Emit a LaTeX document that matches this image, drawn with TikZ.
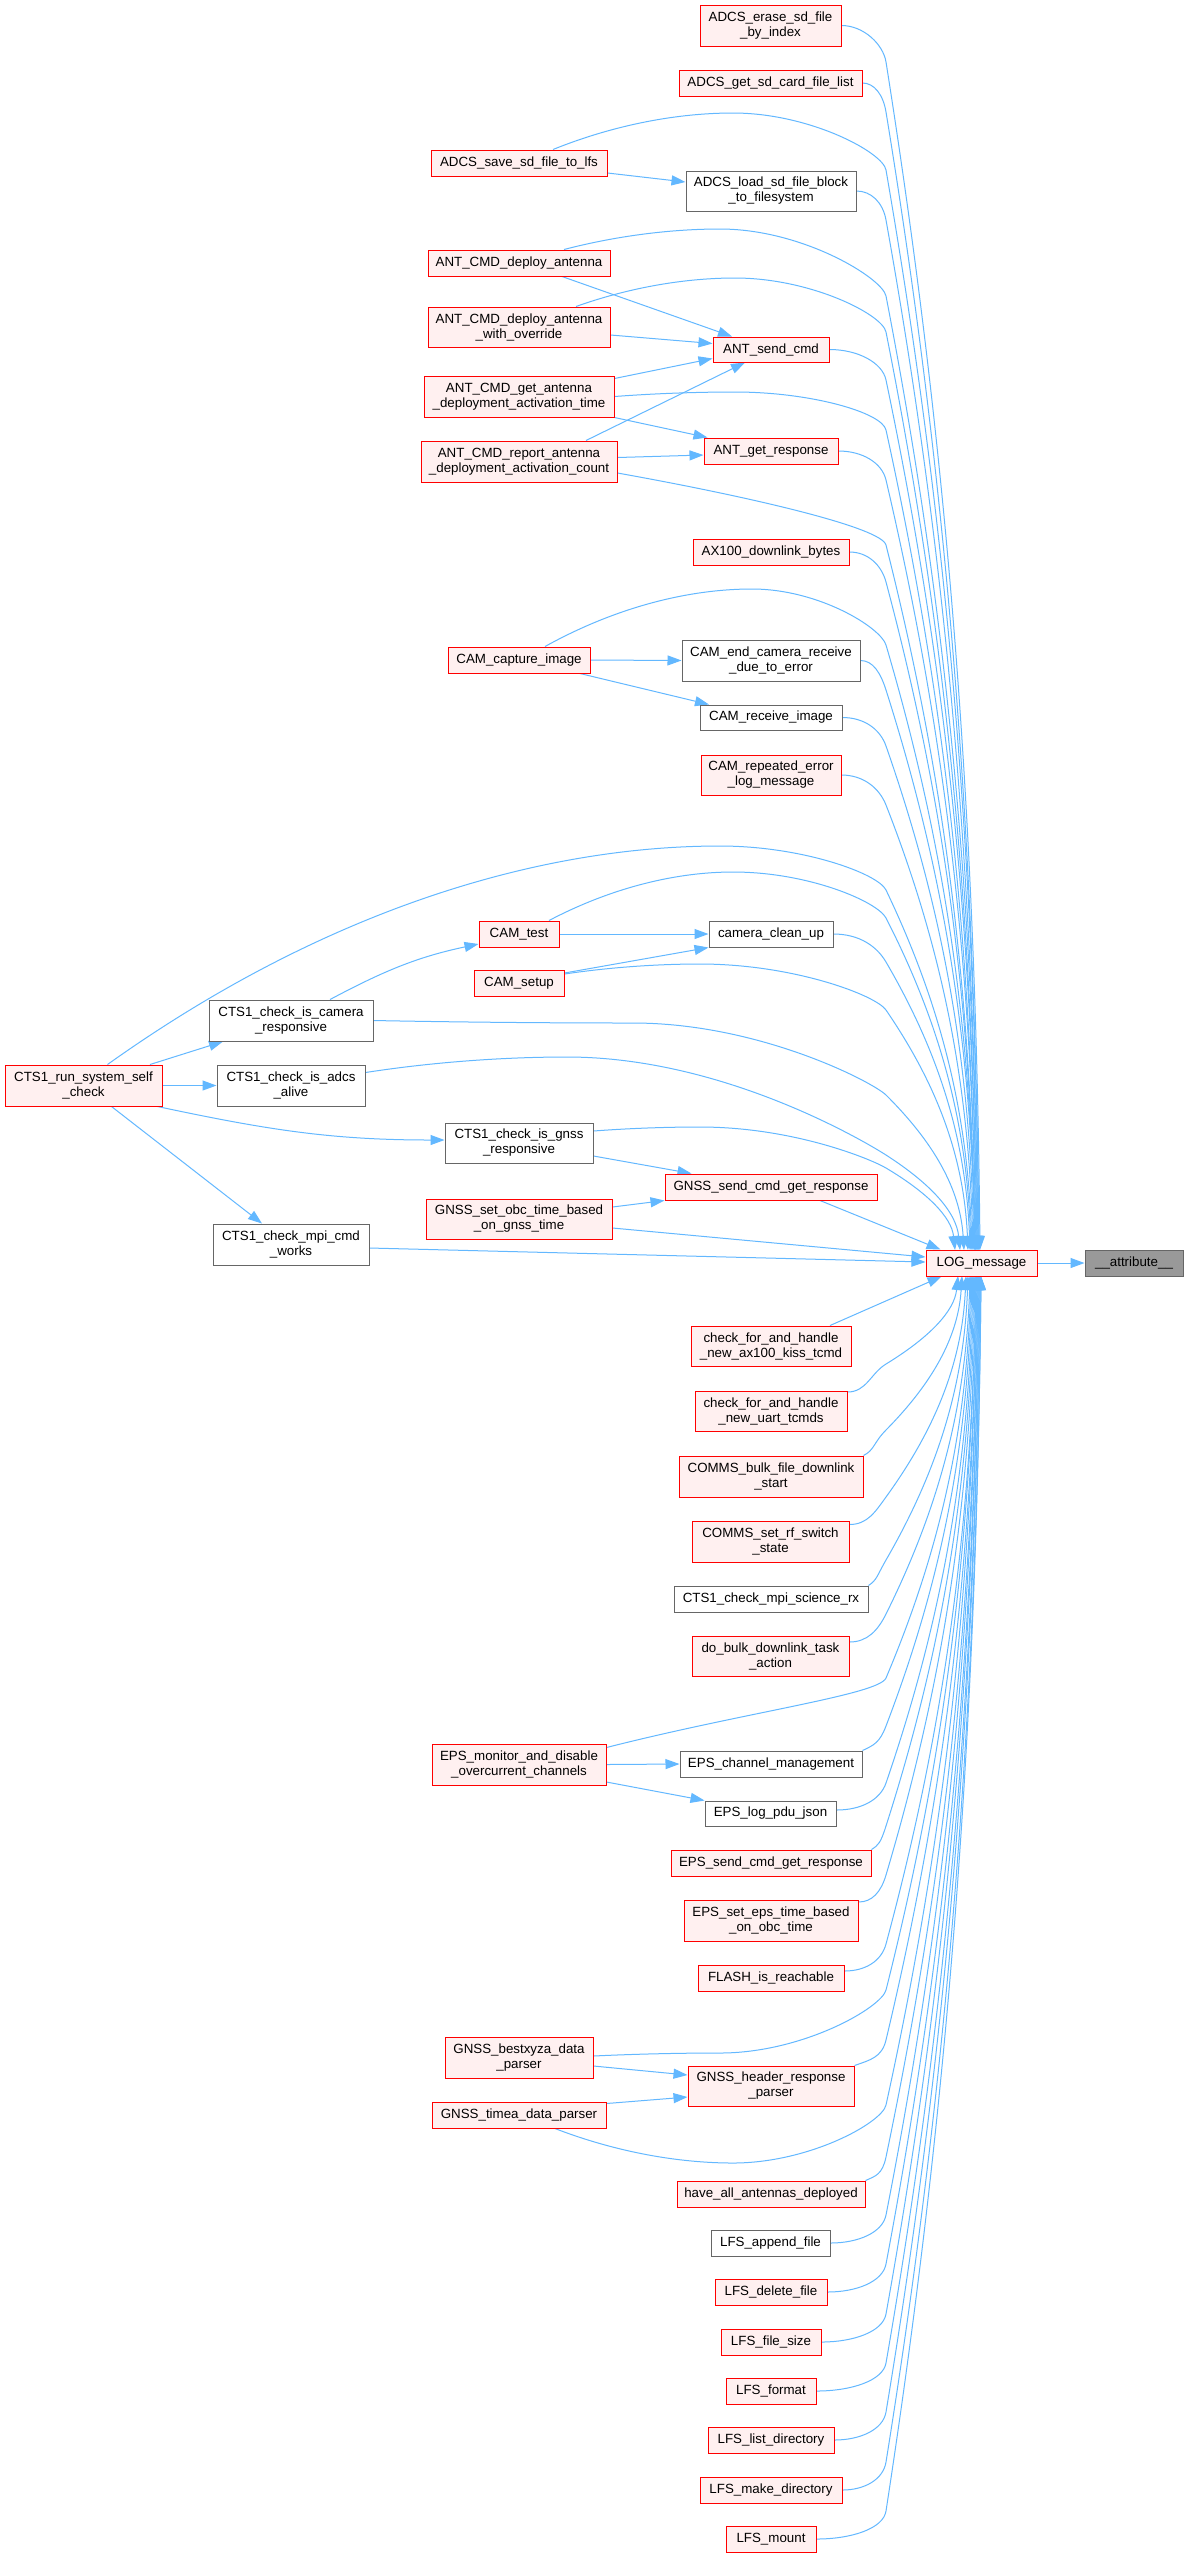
\documentclass[tikz,border=0pt]{standalone}
\usepackage{fontspec}
\setmainfont{Liberation Sans}
\usetikzlibrary{arrows.meta,calc,backgrounds}
\definecolor{edgec}{HTML}{63B8FF}
\definecolor{redb}{HTML}{FF0000}
\definecolor{redf}{HTML}{FFF0F0}
\definecolor{grayb}{HTML}{666666}
\definecolor{attrf}{HTML}{999999}
\tikzset{
 box/.style={draw, line width=0.75pt, align=center, inner sep=0pt, font=\fontsize{10}{11.25}\selectfont, text=black},
 rbox/.style={box, draw=redb, fill=redf},
 gbox/.style={box, draw=grayb, fill=white},
 abox/.style={box, draw=grayb, fill=attrf},
 conn/.style={draw=edgec, line width=0.75pt, -{Triangle[length=10.5pt,width=7.5pt]}}
}
\newcommand\nd[7]{\node[#2, minimum width={(#4-#3)*0.75pt}, minimum height={(#6-#5)*0.75pt}] (#1) at ({(#3+#4)/2},{(#5+#6)/2}) {#7};}
\newcommand\segtoE[4]{%
 \pgfmathsetmacro\cAx{#1+0.6*(#3-#1)}%
 \pgfmathsetmacro\cAy{#2+0.3*(#4-#2)}%
 \pgfmathsetmacro\cBx{#3-0.05*(#3-#1)}%
 \pgfmathsetmacro\cBy{#4-0.4*(#4-#2)}%
 \pgfmathsetmacro\Snn{veclen(\cAx-#1,\cAy-#2)}%
 \pgfmathsetmacro\pBx{#1-18*(\cAx-#1)/\Snn}%
 \pgfmathsetmacro\pBy{#2-18*(\cAy-#2)/\Snn}%
}
% start, xs, ys, sAy, By, xe, ye
\newcommand\rcedge[7]{%
 \segtoE{886}{#5}{#6}{#7}%
 \pgfmathsetmacro\sAx{#2+0.5*(886-#2)}%
 \draw[conn] (#1) .. controls (\sAx,#4) and (\pBx,\pBy) .. (886,#5)
   .. controls (\cAx,\cAy) and (\cBx,\cBy) .. ($(logm.center)+({#6-981.5},{#7-1263})$);
}
% start, xs, ys, Px, Py, By, xe, ye
\newcommand\ovedge[8]{%
 \segtoE{886}{#6}{#7}{#8}%
 \pgfmathsetmacro\sAx{#2+0.35*(#4-#2)}%
 \pgfmathsetmacro\sAy{#3+0.7*(#5-#3)}%
 \pgfmathsetmacro\pAx{#4-0.3*(#4-#2)}%
 \pgfmathsetmacro\qAx{#4+0.5*(886-#4)}%
 \draw[conn] (#1) .. controls (\sAx,\sAy) and (\pAx,#5) .. (#4,#5)
   .. controls (\qAx,#5) and (\pBx,\pBy) .. (886,#6)
   .. controls (\cAx,\cAy) and (\cBx,\cBy) .. ($(logm.center)+({#7-981.5},{#8-1263})$);
}
\begin{document}
\begin{tikzpicture}[x=0.75pt,y=-0.75pt]
\useasboundingbox (0,0) rectangle (1184,2557);
\nd{erase}{rbox}{700}{841}{5}{46}{ADCS\_erase\_sd\_file\\\_by\_index}
\nd{getsd}{rbox}{679}{862}{70}{96}{ADCS\_get\_sd\_card\_file\_list}
\nd{savesd}{rbox}{431}{607}{150}{176}{ADCS\_save\_sd\_file\_to\_lfs}
\nd{loadsd}{gbox}{686}{856}{171}{211}{ADCS\_load\_sd\_file\_block\\\_to\_filesystem}
\nd{deploy}{rbox}{428}{610}{250}{276}{ANT\_CMD\_deploy\_antenna}
\nd{deployov}{rbox}{428}{610}{307}{347}{ANT\_CMD\_deploy\_antenna\\\_with\_override}
\nd{sendcmd}{rbox}{713}{829}{337}{362}{ANT\_send\_cmd}
\nd{gettime}{rbox}{424}{614}{376}{417}{ANT\_CMD\_get\_antenna\\\_deployment\_activation\_time}
\nd{getresp}{rbox}{704}{838}{438}{464}{ANT\_get\_response}
\nd{report}{rbox}{421}{617}{441}{482}{ANT\_CMD\_report\_antenna\\\_deployment\_activation\_count}
\nd{ax100}{rbox}{693}{849}{539}{565}{AX100\_downlink\_bytes}
\nd{capture}{rbox}{448}{590}{647}{673}{CAM\_capture\_image}
\nd{endcam}{gbox}{682}{860}{640}{681}{CAM\_end\_camera\_receive\\\_due\_to\_error}
\nd{recv}{gbox}{700}{842}{705}{730}{CAM\_receive\_image}
\nd{repeated}{rbox}{701}{841}{755}{795}{CAM\_repeated\_error\\\_log\_message}
\nd{camtest}{rbox}{479}{559}{921}{947}{CAM\_test}
\nd{cleanup}{gbox}{709}{833}{921}{947}{camera\_clean\_up}
\nd{camsetup}{rbox}{474}{564}{970}{996}{CAM\_setup}
\nd{chkcam}{gbox}{209}{373}{1000}{1041}{CTS1\_check\_is\_camera\\\_responsive}
\nd{runself}{rbox}{5}{162}{1065}{1106}{CTS1\_run\_system\_self\\\_check}
\nd{adcs}{gbox}{217}{365}{1065}{1106}{CTS1\_check\_is\_adcs\\\_alive}
\nd{gnssresp}{gbox}{445}{593}{1123}{1163}{CTS1\_check\_is\_gnss\\\_responsive}
\nd{gnsssend}{rbox}{665}{877}{1174}{1200}{GNSS\_send\_cmd\_get\_response}
\nd{gnssset}{rbox}{426}{612}{1199}{1239}{GNSS\_set\_obc\_time\_based\\\_on\_gnss\_time}
\nd{mpicmd}{gbox}{213}{369}{1224}{1265}{CTS1\_check\_mpi\_cmd\\\_works}
\nd{logm}{rbox}{926}{1037}{1250}{1276}{LOG\_message}
\nd{attr}{abox}{1085}{1183}{1250}{1276}{\_\_attribute\_\_}
\nd{ax100kiss}{rbox}{691}{851}{1326}{1366}{check\_for\_and\_handle\\\_new\_ax100\_kiss\_tcmd}
\nd{uart}{rbox}{695}{847}{1391}{1431}{check\_for\_and\_handle\\\_new\_uart\_tcmds}
\nd{bulk}{rbox}{679}{863}{1456}{1497}{COMMS\_bulk\_file\_downlink\\\_start}
\nd{rfsw}{rbox}{692}{849}{1521}{1562}{COMMS\_set\_rf\_switch\\\_state}
\nd{mpisci}{gbox}{674}{868}{1586}{1612}{CTS1\_check\_mpi\_science\_rx}
\nd{dobulk}{rbox}{692}{849}{1636}{1676}{do\_bulk\_downlink\_task\\\_action}
\nd{epsmon}{rbox}{432}{606}{1744}{1785}{EPS\_monitor\_and\_disable\\\_overcurrent\_channels}
\nd{epschan}{gbox}{680}{862}{1751}{1777}{EPS\_channel\_management}
\nd{epslog}{gbox}{705}{836}{1801}{1826}{EPS\_log\_pdu\_json}
\nd{epssend}{rbox}{671}{871}{1850}{1876}{EPS\_send\_cmd\_get\_response}
\nd{epsset}{rbox}{684}{858}{1900}{1941}{EPS\_set\_eps\_time\_based\\\_on\_obc\_time}
\nd{flash}{rbox}{698}{844}{1965}{1991}{FLASH\_is\_reachable}
\nd{bestxyza}{rbox}{445}{593}{2037}{2078}{GNSS\_bestxyza\_data\\\_parser}
\nd{header}{rbox}{688}{854}{2066}{2106}{GNSS\_header\_response\\\_parser}
\nd{timea}{rbox}{432}{606}{2102}{2128}{GNSS\_timea\_data\_parser}
\nd{haveall}{rbox}{677}{865}{2181}{2207}{have\_all\_antennas\_deployed}
\nd{lfsappend}{gbox}{711}{830}{2230}{2256}{LFS\_append\_file}
\nd{lfsdelete}{rbox}{715}{827}{2279}{2305}{LFS\_delete\_file}
\nd{lfssize}{rbox}{721}{821}{2329}{2355}{LFS\_file\_size}
\nd{lfsformat}{rbox}{726}{816}{2378}{2404}{LFS\_format}
\nd{lfslist}{rbox}{708}{834}{2427}{2453}{LFS\_list\_directory}
\nd{lfsmake}{rbox}{700}{842}{2477}{2503}{LFS\_make\_directory}
\nd{lfsmount}{rbox}{726}{816}{2526}{2552}{LFS\_mount}
\begin{pgfonlayer}{background}
\fill[white] (0,0) rectangle (1184,2557);
% callers above LOG_message (right column)
\rcedge{erase.east}{841}{25.5}{25.5}{62}{980}{1250}
\rcedge{getsd.east}{862}{83}{83}{112}{979}{1250}
\rcedge{loadsd.east}{856}{191}{191}{220}{978}{1250}
\rcedge{sendcmd.east}{829}{349.5}{349.5}{380}{977}{1250}
\rcedge{getresp.east}{838}{451}{451}{480}{976}{1250}
\rcedge{ax100.east}{849}{552}{552}{582}{975}{1250}
\rcedge{endcam.east}{860}{660.5}{660.5}{690}{975}{1250}
\rcedge{recv.east}{842}{717.5}{717.5}{746}{974}{1250}
\rcedge{repeated.east}{841}{775}{775}{805}{973}{1250}
\rcedge{cleanup.east}{833}{934}{934}{962}{970}{1250}
\rcedge{$(report.east)+(0,11.5)$}{617}{473}{497}{545}{975}{1250}
% callers passing over the top
\ovedge{$(savesd.north)+(34,0)$}{553}{150}{733}{113}{170}{979}{1250}
\ovedge{$(deploy.north)+(45,0)$}{564}{250}{720}{229}{296}{978}{1250}
\ovedge{$(deployov.north)+(57,0)$}{576}{307}{735}{278}{332}{977}{1250}
\ovedge{gettime.east}{614}{396.5}{735}{392}{430}{976}{1250}
\ovedge{$(capture.north)+(26,0)$}{545}{647}{752}{589}{645}{975}{1250}
\ovedge{$(runself.north)+(24,0)$}{107.5}{1065}{720}{846}{890}{972}{1250}
\ovedge{$(camtest.north)+(30,0)$}{549}{921}{733}{872}{918}{971}{1250}
\ovedge{$(camsetup.east)+(0,-9)$}{564}{974}{700}{964}{1010}{968}{1250}
\ovedge{chkcam.east}{373}{1020.5}{633}{1023}{1095}{964}{1250}
\ovedge{$(adcs.east)+(0,-13)$}{365}{1072.5}{567}{1057}{1155}{960}{1250}
\ovedge{$(gnssresp.east)+(0,-12)$}{593}{1131}{700}{1127}{1168}{955}{1250}
% nearly straight ones
\draw[conn] ($(gnsssend.south)+(49,0)$) -- ($(logm.north west)+(15,0)$);
\draw[conn] ($(gnssset.east)+(0,9)$) -- ($(logm.west)+(0,-6)$);
\draw[conn] ($(mpicmd.east)+(0,3.5)$) -- ($(logm.west)+(0,-1)$);
\draw[conn] ($(ax100kiss.north)+(59,0)$) -- ($(logm.south west)+(16,0)$);
% callers below LOG_message
\rcedge{$(uart.east)+(0,-19)$}{847}{1392}{1392}{1364}{958}{1276}
\rcedge{bulk.north east}{863}{1456}{1450}{1430}{962}{1276}
\rcedge{$(rfsw.east)+(0,-17)$}{849}{1524.5}{1524.5}{1497}{966}{1276}
\rcedge{mpisci.north east}{868}{1586}{1580}{1560}{968}{1276}
\rcedge{$(dobulk.east)+(0,-14)$}{849}{1642}{1642}{1614}{970}{1276}
\rcedge{$(epsmon.north east)+(0,4)$}{606}{1748}{1712}{1678}{971}{1276}
\rcedge{epschan.north east}{862}{1751}{1745}{1726}{972}{1276}
\rcedge{$(epslog.east)+(0,-3.5)$}{836}{1810}{1810}{1783}{973}{1276}
\rcedge{epssend.north east}{871}{1850}{1845}{1826}{974}{1276}
\rcedge{$(epsset.east)+(0,-18.5)$}{858}{1902}{1902}{1875}{975}{1276}
\rcedge{$(flash.east)+(0,-7)$}{844}{1971}{1971}{1944}{976}{1276}
\rcedge{header.north east}{854}{2066}{2060}{2040}{977}{1276}
\rcedge{haveall.north east}{865}{2181}{2176}{2157}{978}{1276}
\rcedge{lfsappend.east}{830}{2243}{2243}{2215}{978}{1276}
\rcedge{lfsdelete.east}{827}{2292}{2292}{2264}{979}{1276}
\rcedge{lfssize.east}{821}{2342}{2342}{2314}{979}{1276}
\rcedge{lfsformat.east}{816}{2391}{2391}{2363}{980}{1276}
\rcedge{lfslist.east}{834}{2440}{2440}{2412}{980}{1276}
\rcedge{lfsmake.east}{842}{2490}{2490}{2462}{981}{1276}
\rcedge{lfsmount.east}{816}{2539}{2539}{2511}{981}{1276}
\ovedge{$(bestxyza.east)+(0,-1.5)$}{593}{2056}{720}{2053}{1990}{976}{1276}
\ovedge{$(timea.south)+(36,0)$}{555}{2128}{733}{2163}{2105}{977}{1276}
% other calls
\draw[conn] ($(savesd.east)+(0,10)$) -- ($(loadsd.west)+(0,-9)$);
\draw[conn] ($(deploy.south)+(43,0)$) -- ($(sendcmd.north)+(-39,0)$);
\draw[conn] ($(deployov.east)+(0,8)$) -- ($(sendcmd.west)+(0,-6)$);
\draw[conn] ($(gettime.east)+(0,-18)$) -- ($(sendcmd.west)+(0,9)$);
\draw[conn] (gettime.south east) -- ($(getresp.north west)+(4,0)$);
\draw[conn] ($(report.north)+(67,0)$) -- ($(sendcmd.south)+(-26,0)$);
\draw[conn] ($(report.east)+(0,-4)$) -- ($(getresp.west)+(0,4)$);
\draw[conn] (capture.east) -- (endcam.west);
\draw[conn] ($(capture.south)+(61,0)$) -- ($(recv.north)+(-62,0)$);
\draw[conn] (camtest.east) -- (cleanup.west);
\draw[conn] ($(camsetup.east)+(0,-10)$) -- (cleanup.south west);
\draw[conn] ($(chkcam.north)+(39,0)$) to[out=28,in=192] ($(camtest.west)+(0,10)$);
\draw[conn] ($(runself.north)+(66.5,0)$) -- ($(chkcam.south)+(-68,0)$);
\draw[conn] (runself.east) -- (adcs.west);
\draw[conn] ($(runself.south east)+(-5,0)$) to[out=-12,in=180] ($(gnssresp.west)+(0,-3)$);
\draw[conn] ($(runself.south)+(28,0)$) -- ($(mpicmd.north)+(-29,0)$);
\draw[conn] ($(gnssresp.east)+(0,13)$) -- ($(gnsssend.north west)+(27,0)$);
\draw[conn] ($(gnssset.east)+(0,-12)$) -- (gnsssend.south west);
\draw[conn] (epsmon.east) -- (epschan.west);
\draw[conn] ($(epsmon.east)+(0,17.5)$) -- (epslog.north west);
\draw[conn] ($(bestxyza.east)+(0,8.5)$) -- ($(header.west)+(0,-11)$);
\draw[conn] ($(timea.north east)+(0,2)$) -- ($(header.west)+(0,11)$);
\draw[conn] (logm.east) -- (attr.west);
\end{pgfonlayer}
\end{tikzpicture}
\end{document}
